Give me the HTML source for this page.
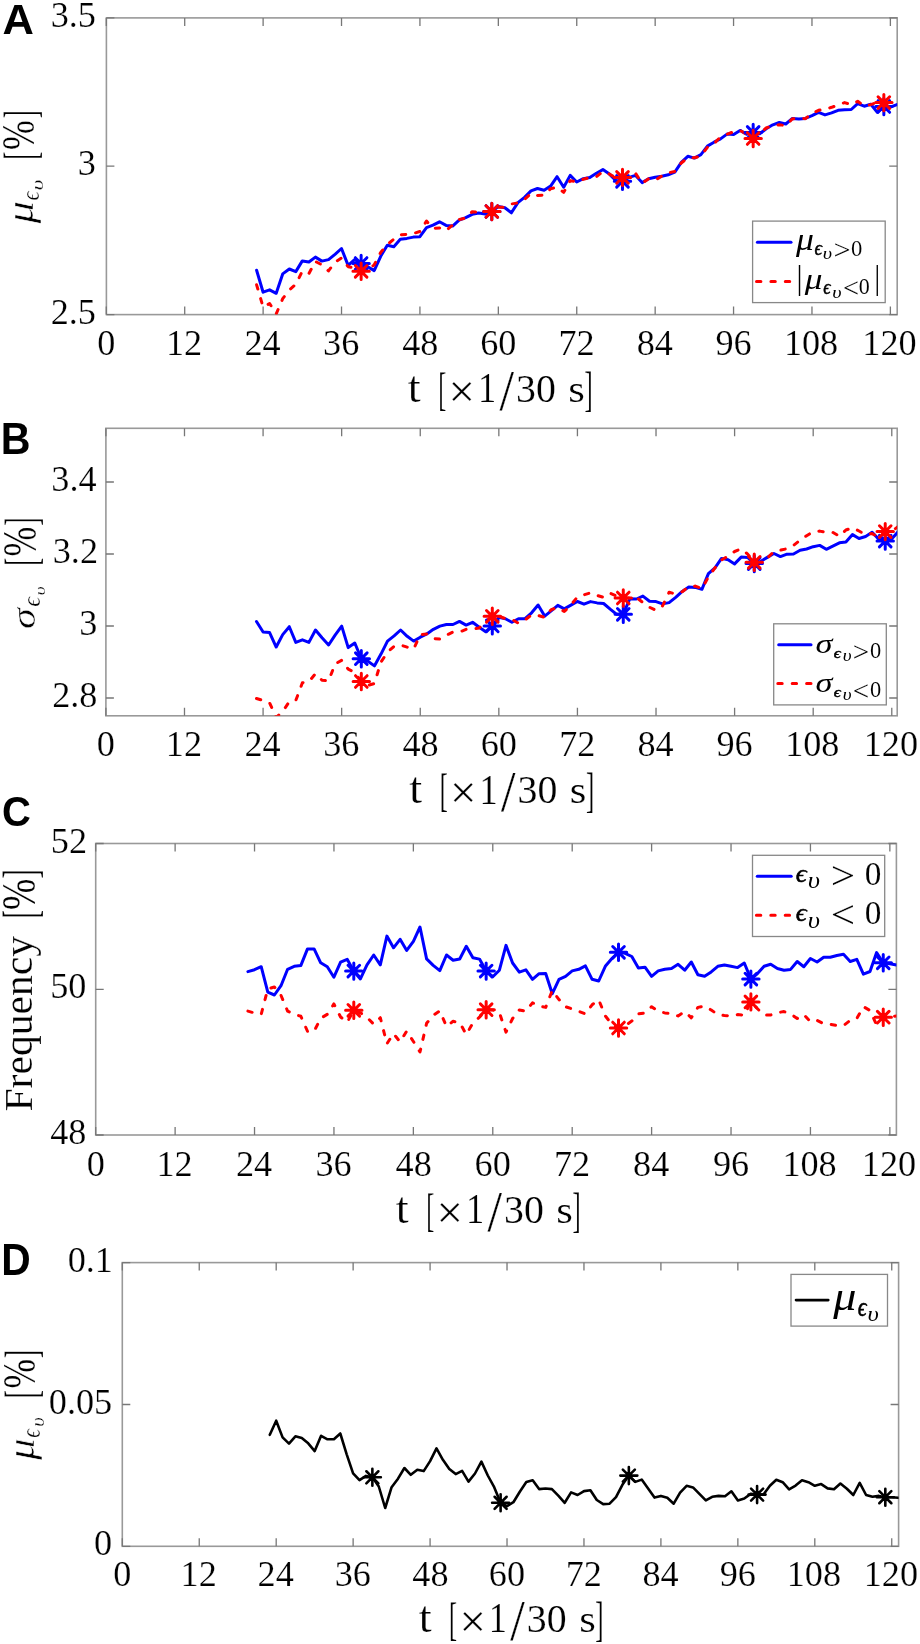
<!DOCTYPE html>
<html><head><meta charset="utf-8"><style>
html,body{margin:0;padding:0;background:#fff;}
svg{display:block;filter:blur(0.35px);}
</style></head><body>
<svg width="920" height="1644" viewBox="0 0 920 1644">
<rect width="920" height="1644" fill="#fff"/>
<rect x="106.4" y="17.9" width="790.80" height="296.70" fill="none" stroke="#999999" stroke-width="1.6"/>
<path d="M106.30,314.6V306.6M106.30,17.9V25.9M184.71,314.6V306.6M184.71,17.9V25.9M263.12,314.6V306.6M263.12,17.9V25.9M341.52,314.6V306.6M341.52,17.9V25.9M419.93,314.6V306.6M419.93,17.9V25.9M498.34,314.6V306.6M498.34,17.9V25.9M576.75,314.6V306.6M576.75,17.9V25.9M655.16,314.6V306.6M655.16,17.9V25.9M733.56,314.6V306.6M733.56,17.9V25.9M811.97,314.6V306.6M811.97,17.9V25.9M890.38,314.6V306.6M890.38,17.9V25.9M106.4,314.60H114.4M897.2,314.60H889.2M106.4,166.10H114.4M897.2,166.10H889.2M106.4,17.90H114.4M897.2,17.90H889.2" stroke="#777" stroke-width="1.3" fill="none"/>
<clipPath id="cA"><rect x="106.4" y="17.9" width="790.8000000000001" height="296.70000000000005"/></clipPath>
<g clip-path="url(#cA)">
<polyline points="256.6,270.2 263.1,292.2 269.6,289.8 276.2,293.3 282.7,273.9 289.3,269.0 295.8,271.6 302.3,260.9 308.9,262.0 315.4,257.1 321.9,261.1 328.5,259.6 335.0,254.3 341.5,248.5 348.1,265.4 354.6,259.6 361.1,264.0 367.7,266.7 374.2,270.6 380.7,256.3 387.3,245.2 393.8,246.8 400.3,239.3 406.9,238.4 413.4,237.1 419.9,236.7 426.5,227.6 433.0,225.2 439.5,221.8 446.1,225.4 452.6,226.1 459.1,220.2 465.7,217.6 472.2,214.3 478.7,213.0 485.3,214.1 491.8,211.5 498.3,206.5 504.9,207.8 511.4,212.8 517.9,202.6 524.5,197.4 531.0,190.9 537.5,188.5 544.1,190.3 550.6,186.1 557.1,176.7 563.7,187.2 570.2,175.4 576.7,182.0 583.3,178.7 589.8,177.6 596.4,173.2 602.9,169.6 609.4,174.1 616.0,180.6 622.5,181.3 629.0,177.4 635.6,175.4 642.1,182.6 648.6,178.7 655.2,177.2 661.7,176.2 668.2,174.8 674.8,172.2 681.3,162.4 687.8,156.3 694.4,158.1 700.9,154.6 707.4,146.1 714.0,142.2 720.5,138.9 727.0,134.1 733.6,134.6 740.1,130.4 746.6,134.3 753.2,132.4 759.7,133.7 766.2,128.8 772.8,124.8 779.3,122.5 785.8,124.0 792.4,118.4 798.9,119.0 805.4,118.4 812.0,115.7 818.5,112.3 825.0,114.9 831.6,112.9 838.1,110.3 844.6,109.8 851.2,109.5 857.7,103.6 864.2,106.2 870.8,104.2 877.3,112.4 883.8,106.5 890.4,107.2 896.9,104.6" fill="none" stroke="#0000ff" stroke-width="3.0" stroke-linejoin="round" stroke-linecap="round"/>
<polyline points="256.6,284.8 263.1,307.0 269.6,303.5 276.2,313.9 282.7,298.7 289.3,290.0 295.8,284.3 302.3,271.3 308.9,273.5 315.4,261.5 321.9,264.8 328.5,270.9 335.0,262.2 341.5,258.0 348.1,266.7 354.6,268.0 361.1,271.3 367.7,270.0 374.2,264.8 380.7,252.4 387.3,244.6 393.8,239.3 400.3,234.8 406.9,234.5 413.4,233.5 419.9,231.5 426.5,221.1 433.0,228.3 439.5,228.0 446.1,230.6 452.6,225.0 459.1,219.6 465.7,218.0 472.2,211.7 478.7,212.4 485.3,211.5 491.8,211.5 498.3,207.2 504.9,207.2 511.4,204.0 517.9,202.9 524.5,199.3 531.0,193.5 537.5,195.4 544.1,195.2 550.6,188.7 557.1,187.2 563.7,192.4 570.2,180.6 576.7,182.0 583.3,179.3 589.8,177.4 596.4,176.7 602.9,171.5 609.4,174.1 616.0,178.0 622.5,177.4 629.0,175.4 635.6,173.5 642.1,183.3 648.6,178.7 655.2,180.3 661.7,176.1 668.2,172.8 674.8,171.5 681.3,163.0 687.8,157.8 694.4,157.8 700.9,155.9 707.4,147.4 714.0,143.5 720.5,137.0 727.0,134.3 733.6,131.7 740.1,130.4 746.6,134.3 753.2,138.5 759.7,133.7 766.2,128.0 772.8,125.5 779.3,124.8 785.8,125.5 792.4,118.7 798.9,118.4 805.4,118.7 812.0,113.4 818.5,110.3 825.0,109.3 831.6,107.3 838.1,105.0 844.6,102.6 851.2,104.6 857.7,101.3 864.2,105.9 870.8,104.6 877.3,102.3 883.8,102.6 890.4,103.5 896.9,101.0" fill="none" stroke="#ff0000" stroke-width="3.0" stroke-linejoin="round" stroke-linecap="round" stroke-dasharray="4.4 10"/>
<path d="M352.93,263.50L369.33,263.50M355.33,257.70L366.92,269.30M361.13,255.30L361.13,271.70M366.92,257.70L355.33,269.30" stroke="#0000ff" stroke-width="3.0" stroke-linecap="round" fill="none"/>
<path d="M483.61,211.50L500.01,211.50M486.01,205.70L497.60,217.30M491.81,203.30L491.81,219.70M497.60,205.70L486.01,217.30" stroke="#0000ff" stroke-width="3.0" stroke-linecap="round" fill="none"/>
<path d="M614.29,181.30L630.69,181.30M616.69,175.50L628.28,187.10M622.49,173.10L622.49,189.50M628.28,175.50L616.69,187.10" stroke="#0000ff" stroke-width="3.0" stroke-linecap="round" fill="none"/>
<path d="M744.97,132.40L761.37,132.40M747.37,126.60L758.96,138.20M753.17,124.20L753.17,140.60M758.96,126.60L747.37,138.20" stroke="#0000ff" stroke-width="3.0" stroke-linecap="round" fill="none"/>
<path d="M875.65,106.50L892.05,106.50M878.05,100.70L889.64,112.30M883.85,98.30L883.85,114.70M889.64,100.70L878.05,112.30" stroke="#0000ff" stroke-width="3.0" stroke-linecap="round" fill="none"/>
<path d="M352.93,271.30L369.33,271.30M355.33,265.50L366.92,277.10M361.13,263.10L361.13,279.50M366.92,265.50L355.33,277.10" stroke="#ff0000" stroke-width="3.0" stroke-linecap="round" fill="none"/>
<path d="M483.61,211.50L500.01,211.50M486.01,205.70L497.60,217.30M491.81,203.30L491.81,219.70M497.60,205.70L486.01,217.30" stroke="#ff0000" stroke-width="3.0" stroke-linecap="round" fill="none"/>
<path d="M614.29,177.40L630.69,177.40M616.69,171.60L628.28,183.20M622.49,169.20L622.49,185.60M628.28,171.60L616.69,183.20" stroke="#ff0000" stroke-width="3.0" stroke-linecap="round" fill="none"/>
<path d="M744.97,138.50L761.37,138.50M747.37,132.70L758.96,144.30M753.17,130.30L753.17,146.70M758.96,132.70L747.37,144.30" stroke="#ff0000" stroke-width="3.0" stroke-linecap="round" fill="none"/>
<path d="M875.65,102.60L892.05,102.60M878.05,96.80L889.64,108.40M883.85,94.40L883.85,110.80M889.64,96.80L878.05,108.40" stroke="#ff0000" stroke-width="3.0" stroke-linecap="round" fill="none"/>
</g>
<text transform="translate(97.25,354.50)" style="font-family:'Liberation Serif', serif;font-size:36.20px" fill="#000" stroke="#fff" stroke-width="0.20">0</text>
<text transform="translate(166.02,354.50)" style="font-family:'Liberation Serif', serif;font-size:36.20px" fill="#000" stroke="#fff" stroke-width="0.20">12</text>
<text transform="translate(244.50,354.50)" style="font-family:'Liberation Serif', serif;font-size:36.20px" fill="#000" stroke="#fff" stroke-width="0.20">24</text>
<text transform="translate(323.10,354.50)" style="font-family:'Liberation Serif', serif;font-size:36.20px" fill="#000" stroke="#fff" stroke-width="0.20">36</text>
<text transform="translate(402.17,354.50)" style="font-family:'Liberation Serif', serif;font-size:36.20px" fill="#000" stroke="#fff" stroke-width="0.20">48</text>
<text transform="translate(480.15,354.50)" style="font-family:'Liberation Serif', serif;font-size:36.20px" fill="#000" stroke="#fff" stroke-width="0.20">60</text>
<text transform="translate(558.45,354.50)" style="font-family:'Liberation Serif', serif;font-size:36.20px" fill="#000" stroke="#fff" stroke-width="0.20">72</text>
<text transform="translate(636.65,354.50)" style="font-family:'Liberation Serif', serif;font-size:36.20px" fill="#000" stroke="#fff" stroke-width="0.20">84</text>
<text transform="translate(715.42,354.50)" style="font-family:'Liberation Serif', serif;font-size:36.20px" fill="#000" stroke="#fff" stroke-width="0.20">96</text>
<text transform="translate(783.92,354.50)" style="font-family:'Liberation Serif', serif;font-size:36.20px" fill="#000" stroke="#fff" stroke-width="0.20">108</text>
<text transform="translate(862.33,354.50)" style="font-family:'Liberation Serif', serif;font-size:36.20px" fill="#000" stroke="#fff" stroke-width="0.20">120</text>
<text transform="translate(50.66,323.60)" style="font-family:'Liberation Serif', serif;font-size:36.20px" fill="#000" stroke="#fff" stroke-width="0.20">2.5</text>
<text transform="translate(77.81,175.10)" style="font-family:'Liberation Serif', serif;font-size:36.20px" fill="#000" stroke="#fff" stroke-width="0.20">3</text>
<text transform="translate(50.66,26.90)" style="font-family:'Liberation Serif', serif;font-size:36.20px" fill="#000" stroke="#fff" stroke-width="0.20">3.5</text>
<text transform="translate(407.85,401.77) scale(1.0451,1)" style="font-family:'Liberation Serif', serif;font-size:44.52px" fill="#000" stroke="#fff" stroke-width="0.20">t</text>
<text transform="translate(438.30,404.66) scale(0.5121,1)" style="font-family:'Liberation Serif', serif;font-size:47.36px" fill="#000" stroke="#fff" stroke-width="0.20">[</text>
<text transform="translate(448.59,406.59) scale(1.0281,1)" style="font-family:'Liberation Serif', serif;font-size:45.67px" fill="#000" stroke="#fff" stroke-width="0.20">×</text>
<text transform="translate(478.00,402.00) scale(0.8824,1)" style="font-family:'Liberation Serif', serif;font-size:41.20px" fill="#000" stroke="#fff" stroke-width="0.20">1</text>
<text transform="translate(499.50,409.94) scale(0.9139,1)" style="font-family:'Liberation Serif', serif;font-size:57.10px" fill="#000" stroke="#fff" stroke-width="0.20">/</text>
<text transform="translate(515.99,401.80) scale(0.9807,1)" style="font-family:'Liberation Serif', serif;font-size:40.60px" fill="#000" stroke="#fff" stroke-width="0.20">30</text>
<text transform="translate(568.35,401.82) scale(1.0963,1)" style="font-family:'Liberation Serif', serif;font-size:38.88px" fill="#000" stroke="#fff" stroke-width="0.20">s</text>
<text transform="translate(584.41,404.83) scale(0.5189,1)" style="font-family:'Liberation Serif', serif;font-size:47.61px" fill="#000" stroke="#fff" stroke-width="0.20">]</text>
<g transform="translate(32.89,223.50) rotate(-90)"><text transform="translate(0.04,0) scale(1.1797,1)" style="font-family:'Liberation Serif', serif;font-style:italic;font-size:37.90px" fill="#000" stroke="#fff" stroke-width="0.50">μ</text></g>
<g transform="translate(38.85,199.80) rotate(-90)"><text transform="translate(-0.67,0) scale(0.8640,1)" style="font-family:'Liberation Serif', serif;font-style:italic;font-size:25.99px" fill="#000" stroke="#fff" stroke-width="0.32">ϵ</text></g>
<g transform="translate(43.13,189.40) rotate(-90)"><text transform="translate(-1.06,0) scale(1.4028,1)" style="font-family:'Liberation Serif', serif;font-style:italic;font-size:17.07px" fill="#000" stroke="#fff" stroke-width="0.21">υ</text></g>
<g transform="translate(36.06,157.90) rotate(-90)"><text transform="translate(-1.83,0) scale(0.5215,1)" style="font-family:'Liberation Serif', serif;font-size:47.36px" fill="#000" stroke="#fff" stroke-width="0.20">[</text></g>
<g transform="translate(33.99,148.80) rotate(-90)"><text transform="translate(-1.22,0) scale(0.7740,1)" style="font-family:'Liberation Serif', serif;font-size:46.30px" fill="#000" stroke="#fff" stroke-width="0.20">%</text></g>
<g transform="translate(36.06,117.30) rotate(-90)"><text transform="translate(-0.81,0) scale(0.4741,1)" style="font-family:'Liberation Serif', serif;font-size:47.36px" fill="#000" stroke="#fff" stroke-width="0.20">]</text></g>
<text transform="translate(2.62,33.70) scale(1.0048,1)" style="font-family:'Liberation Sans', sans-serif;font-weight:bold;font-size:43.31px" fill="#000">A</text>
<rect x="752.6" y="221.1" width="132.60" height="81.50" fill="#fff" stroke="#888" stroke-width="1.3"/>
<path d="M757.4,242.3H791" stroke="#0000ff" stroke-width="3" stroke-linecap="round"/>
<path d="M756.5,281.6H792.3" stroke="#ff0000" stroke-width="3" stroke-linecap="round" stroke-dasharray="4.4 10"/>
<text transform="translate(796.03,250.42) scale(1.1626,1)" style="font-family:'Liberation Serif', serif;font-style:italic;font-size:30.76px" fill="#000">μ</text>
<text transform="translate(814.55,254.80) scale(0.8901,1)" style="font-family:'Liberation Serif', serif;font-style:italic;font-size:20.79px" fill="#000" stroke="#000" stroke-width="0.50">ϵ</text>
<text transform="translate(822.80,258.74) scale(1.2040,1)" style="font-family:'Liberation Serif', serif;font-style:italic;font-size:16.86px" fill="#000">υ</text>
<text transform="translate(833.56,258.72) scale(1.0909,1)" style="font-family:'Liberation Serif', serif;font-size:27.78px" fill="#000" stroke="#fff" stroke-width="0.08">&gt;</text>
<text transform="translate(850.94,255.67) scale(0.9674,1)" style="font-family:'Liberation Serif', serif;font-size:23.41px" fill="#000" stroke="#fff" stroke-width="0.07">0</text>
<text transform="translate(796.54,289.27) scale(0.8753,1)" style="font-family:'Liberation Serif', serif;font-size:34.41px" fill="#000" stroke="#fff" stroke-width="0.10">|</text>
<text transform="translate(804.83,289.41) scale(1.1830,1)" style="font-family:'Liberation Serif', serif;font-style:italic;font-size:29.87px" fill="#000">μ</text>
<text transform="translate(823.36,294.30) scale(0.8840,1)" style="font-family:'Liberation Serif', serif;font-style:italic;font-size:20.38px" fill="#000" stroke="#000" stroke-width="0.50">ϵ</text>
<text transform="translate(832.30,297.54) scale(1.2503,1)" style="font-family:'Liberation Serif', serif;font-style:italic;font-size:16.23px" fill="#000">υ</text>
<text transform="translate(842.99,297.29) scale(1.0367,1)" style="font-family:'Liberation Serif', serif;font-size:27.36px" fill="#000" stroke="#fff" stroke-width="0.08">&lt;</text>
<text transform="translate(858.76,294.08) scale(0.9742,1)" style="font-family:'Liberation Serif', serif;font-size:22.53px" fill="#000" stroke="#fff" stroke-width="0.06">0</text>
<text transform="translate(874.24,289.27) scale(0.8753,1)" style="font-family:'Liberation Serif', serif;font-size:34.41px" fill="#000" stroke="#fff" stroke-width="0.10">|</text>
<rect x="105.9" y="428.3" width="791.30" height="287.50" fill="none" stroke="#999999" stroke-width="1.6"/>
<path d="M105.90,715.8V707.8M105.90,428.3V436.3M184.49,715.8V707.8M184.49,428.3V436.3M263.08,715.8V707.8M263.08,428.3V436.3M341.66,715.8V707.8M341.66,428.3V436.3M420.25,715.8V707.8M420.25,428.3V436.3M498.84,715.8V707.8M498.84,428.3V436.3M577.43,715.8V707.8M577.43,428.3V436.3M656.02,715.8V707.8M656.02,428.3V436.3M734.60,715.8V707.8M734.60,428.3V436.3M813.19,715.8V707.8M813.19,428.3V436.3M891.78,715.8V707.8M891.78,428.3V436.3M105.9,698.00H113.9M897.2,698.00H889.2M105.9,626.00H113.9M897.2,626.00H889.2M105.9,554.00H113.9M897.2,554.00H889.2M105.9,482.00H113.9M897.2,482.00H889.2" stroke="#777" stroke-width="1.3" fill="none"/>
<clipPath id="cB"><rect x="105.9" y="428.3" width="791.3000000000001" height="287.49999999999994"/></clipPath>
<g clip-path="url(#cB)">
<polyline points="256.5,621.5 263.1,632.0 269.6,632.6 276.2,647.0 282.7,634.6 289.3,626.7 295.8,642.4 302.4,639.8 308.9,642.4 315.5,630.0 322.0,637.8 328.6,645.0 335.1,635.2 341.7,626.1 348.2,647.6 354.8,643.0 361.3,658.7 367.9,661.3 374.4,665.9 381.0,654.1 387.5,641.1 394.1,635.9 400.6,630.0 407.2,636.3 413.7,641.1 420.3,637.2 426.8,633.9 433.4,629.3 439.9,626.1 446.4,624.5 453.0,624.5 459.5,621.4 466.1,625.1 472.6,622.3 479.2,627.2 485.7,631.7 492.3,625.9 498.8,617.4 505.4,618.7 511.9,622.3 518.5,618.7 525.0,618.7 531.6,612.8 538.1,605.0 544.7,616.1 551.2,610.9 557.8,605.4 564.3,608.9 570.9,605.1 577.4,601.5 584.0,604.2 590.5,601.6 597.1,602.9 603.6,603.5 610.2,609.1 616.7,614.3 623.3,614.3 629.8,598.7 636.4,599.0 642.9,596.1 649.5,601.3 656.0,601.6 662.6,603.9 669.1,602.6 675.7,597.4 682.2,591.4 688.8,587.1 695.3,587.4 701.9,589.3 708.4,573.7 715.0,567.8 721.5,558.4 728.1,559.7 734.6,563.9 741.2,557.1 747.7,557.4 754.3,563.6 760.8,561.3 767.3,557.4 773.9,553.5 780.4,556.6 787.0,554.2 793.5,554.0 800.1,550.3 806.6,549.0 813.2,546.7 819.7,545.4 826.3,549.3 832.8,546.1 839.4,542.8 845.9,542.1 852.5,534.6 859.0,538.5 865.6,536.5 872.1,532.3 878.7,539.1 885.2,541.1 891.8,538.8 898.3,531.6" fill="none" stroke="#0000ff" stroke-width="3.0" stroke-linejoin="round" stroke-linecap="round"/>
<polyline points="256.5,698.5 263.1,700.4 269.6,703.0 276.2,717.4 282.7,711.5 289.3,701.7 295.8,700.4 302.4,682.8 308.9,681.5 315.5,673.7 322.0,680.2 328.6,680.9 335.1,663.9 341.7,660.3 348.2,669.1 354.8,672.4 361.3,681.5 367.9,685.4 374.4,683.5 381.0,662.0 387.5,652.2 394.1,646.3 400.6,645.0 407.2,647.2 413.7,648.9 420.3,634.6 426.8,633.9 433.4,638.5 439.9,639.1 446.4,635.2 453.0,632.0 459.5,632.0 466.1,629.4 472.6,629.1 479.2,628.0 485.7,621.3 492.3,616.3 498.8,616.1 505.4,618.7 511.9,619.3 518.5,623.3 525.0,620.0 531.6,614.8 538.1,615.4 544.7,617.4 551.2,609.6 557.8,607.6 564.3,611.5 570.9,605.0 577.4,597.0 584.0,594.8 590.5,592.8 597.1,595.4 603.6,597.4 610.2,593.2 616.7,596.1 623.3,598.0 629.8,598.0 636.4,597.4 642.9,602.6 649.5,607.2 656.0,610.4 662.6,605.9 669.1,592.2 675.7,594.1 682.2,591.7 688.8,586.7 695.3,586.1 701.9,588.7 708.4,577.0 715.0,567.8 721.5,560.0 728.1,556.1 734.6,551.5 741.2,548.9 747.7,554.1 754.3,562.3 760.8,562.6 767.3,558.0 773.9,551.5 780.4,550.2 787.0,548.7 793.5,545.4 800.1,540.2 806.6,535.7 813.2,531.7 819.7,531.1 826.3,532.4 832.8,532.4 839.4,536.3 845.9,530.0 852.5,527.7 859.0,531.0 865.6,534.6 872.1,533.6 878.7,537.2 885.2,531.6 891.8,531.3 898.3,526.4" fill="none" stroke="#ff0000" stroke-width="3.0" stroke-linejoin="round" stroke-linecap="round" stroke-dasharray="4.4 10"/>
<path d="M353.11,658.70L369.51,658.70M355.51,652.90L367.11,664.50M361.31,650.50L361.31,666.90M367.11,652.90L355.51,664.50" stroke="#0000ff" stroke-width="3.0" stroke-linecap="round" fill="none"/>
<path d="M484.09,625.90L500.49,625.90M486.49,620.10L498.09,631.70M492.29,617.70L492.29,634.10M498.09,620.10L486.49,631.70" stroke="#0000ff" stroke-width="3.0" stroke-linecap="round" fill="none"/>
<path d="M615.07,614.30L631.47,614.30M617.47,608.50L629.07,620.10M623.27,606.10L623.27,622.50M629.07,608.50L617.47,620.10" stroke="#0000ff" stroke-width="3.0" stroke-linecap="round" fill="none"/>
<path d="M746.05,563.60L762.45,563.60M748.45,557.80L760.05,569.40M754.25,555.40L754.25,571.80M760.05,557.80L748.45,569.40" stroke="#0000ff" stroke-width="3.0" stroke-linecap="round" fill="none"/>
<path d="M877.03,541.10L893.43,541.10M879.43,535.30L891.03,546.90M885.23,532.90L885.23,549.30M891.03,535.30L879.43,546.90" stroke="#0000ff" stroke-width="3.0" stroke-linecap="round" fill="none"/>
<path d="M353.11,681.50L369.51,681.50M355.51,675.70L367.11,687.30M361.31,673.30L361.31,689.70M367.11,675.70L355.51,687.30" stroke="#ff0000" stroke-width="3.0" stroke-linecap="round" fill="none"/>
<path d="M484.09,616.30L500.49,616.30M486.49,610.50L498.09,622.10M492.29,608.10L492.29,624.50M498.09,610.50L486.49,622.10" stroke="#ff0000" stroke-width="3.0" stroke-linecap="round" fill="none"/>
<path d="M615.07,598.00L631.47,598.00M617.47,592.20L629.07,603.80M623.27,589.80L623.27,606.20M629.07,592.20L617.47,603.80" stroke="#ff0000" stroke-width="3.0" stroke-linecap="round" fill="none"/>
<path d="M746.05,562.30L762.45,562.30M748.45,556.50L760.05,568.10M754.25,554.10L754.25,570.50M760.05,556.50L748.45,568.10" stroke="#ff0000" stroke-width="3.0" stroke-linecap="round" fill="none"/>
<path d="M877.03,531.60L893.43,531.60M879.43,525.80L891.03,537.40M885.23,523.40L885.23,539.80M891.03,525.80L879.43,537.40" stroke="#ff0000" stroke-width="3.0" stroke-linecap="round" fill="none"/>
</g>
<text transform="translate(96.85,755.70)" style="font-family:'Liberation Serif', serif;font-size:36.20px" fill="#000" stroke="#fff" stroke-width="0.20">0</text>
<text transform="translate(165.80,755.70)" style="font-family:'Liberation Serif', serif;font-size:36.20px" fill="#000" stroke="#fff" stroke-width="0.20">12</text>
<text transform="translate(244.46,755.70)" style="font-family:'Liberation Serif', serif;font-size:36.20px" fill="#000" stroke="#fff" stroke-width="0.20">24</text>
<text transform="translate(323.24,755.70)" style="font-family:'Liberation Serif', serif;font-size:36.20px" fill="#000" stroke="#fff" stroke-width="0.20">36</text>
<text transform="translate(402.49,755.70)" style="font-family:'Liberation Serif', serif;font-size:36.20px" fill="#000" stroke="#fff" stroke-width="0.20">48</text>
<text transform="translate(480.65,755.70)" style="font-family:'Liberation Serif', serif;font-size:36.20px" fill="#000" stroke="#fff" stroke-width="0.20">60</text>
<text transform="translate(559.13,755.70)" style="font-family:'Liberation Serif', serif;font-size:36.20px" fill="#000" stroke="#fff" stroke-width="0.20">72</text>
<text transform="translate(637.51,755.70)" style="font-family:'Liberation Serif', serif;font-size:36.20px" fill="#000" stroke="#fff" stroke-width="0.20">84</text>
<text transform="translate(716.46,755.70)" style="font-family:'Liberation Serif', serif;font-size:36.20px" fill="#000" stroke="#fff" stroke-width="0.20">96</text>
<text transform="translate(785.14,755.70)" style="font-family:'Liberation Serif', serif;font-size:36.20px" fill="#000" stroke="#fff" stroke-width="0.20">108</text>
<text transform="translate(863.73,755.70)" style="font-family:'Liberation Serif', serif;font-size:36.20px" fill="#000" stroke="#fff" stroke-width="0.20">120</text>
<text transform="translate(52.13,707.00)" style="font-family:'Liberation Serif', serif;font-size:36.20px" fill="#000" stroke="#fff" stroke-width="0.20">2.8</text>
<text transform="translate(79.31,635.00)" style="font-family:'Liberation Serif', serif;font-size:36.20px" fill="#000" stroke="#fff" stroke-width="0.20">3</text>
<text transform="translate(52.75,563.00)" style="font-family:'Liberation Serif', serif;font-size:36.20px" fill="#000" stroke="#fff" stroke-width="0.20">3.2</text>
<text transform="translate(51.32,491.00)" style="font-family:'Liberation Serif', serif;font-size:36.20px" fill="#000" stroke="#fff" stroke-width="0.20">3.4</text>
<text transform="translate(409.35,803.27) scale(1.0451,1)" style="font-family:'Liberation Serif', serif;font-size:44.52px" fill="#000" stroke="#fff" stroke-width="0.20">t</text>
<text transform="translate(439.80,806.16) scale(0.5121,1)" style="font-family:'Liberation Serif', serif;font-size:47.36px" fill="#000" stroke="#fff" stroke-width="0.20">[</text>
<text transform="translate(450.09,808.09) scale(1.0281,1)" style="font-family:'Liberation Serif', serif;font-size:45.67px" fill="#000" stroke="#fff" stroke-width="0.20">×</text>
<text transform="translate(479.50,803.50) scale(0.8824,1)" style="font-family:'Liberation Serif', serif;font-size:41.20px" fill="#000" stroke="#fff" stroke-width="0.20">1</text>
<text transform="translate(501.00,811.44) scale(0.9139,1)" style="font-family:'Liberation Serif', serif;font-size:57.10px" fill="#000" stroke="#fff" stroke-width="0.20">/</text>
<text transform="translate(517.49,803.30) scale(0.9807,1)" style="font-family:'Liberation Serif', serif;font-size:40.60px" fill="#000" stroke="#fff" stroke-width="0.20">30</text>
<text transform="translate(569.85,803.32) scale(1.0963,1)" style="font-family:'Liberation Serif', serif;font-size:38.88px" fill="#000" stroke="#fff" stroke-width="0.20">s</text>
<text transform="translate(585.91,806.33) scale(0.5189,1)" style="font-family:'Liberation Serif', serif;font-size:47.61px" fill="#000" stroke="#fff" stroke-width="0.20">]</text>
<g transform="translate(34.57,627.70) rotate(-90)"><text transform="translate(-1.26,0) scale(1.2673,1)" style="font-family:'Liberation Serif', serif;font-style:italic;font-size:33.31px" fill="#000" stroke="#fff" stroke-width="0.42">σ</text></g>
<g transform="translate(39.76,606.00) rotate(-90)"><text transform="translate(-0.72,0) scale(0.9773,1)" style="font-family:'Liberation Serif', serif;font-style:italic;font-size:24.74px" fill="#000" stroke="#fff" stroke-width="0.31">ϵ</text></g>
<g transform="translate(44.55,594.50) rotate(-90)"><text transform="translate(-0.89,0) scale(1.3188,1)" style="font-family:'Liberation Serif', serif;font-style:italic;font-size:15.19px" fill="#000" stroke="#fff" stroke-width="0.19">υ</text></g>
<g transform="translate(37.48,563.80) rotate(-90)"><text transform="translate(-1.70,0) scale(0.4848,1)" style="font-family:'Liberation Serif', serif;font-size:47.24px" fill="#000" stroke="#fff" stroke-width="0.20">[</text></g>
<g transform="translate(35.97,555.30) rotate(-90)"><text transform="translate(-1.22,0) scale(0.7497,1)" style="font-family:'Liberation Serif', serif;font-size:47.62px" fill="#000" stroke="#fff" stroke-width="0.20">%</text></g>
<g transform="translate(37.48,524.70) rotate(-90)"><text transform="translate(-0.83,0) scale(0.4848,1)" style="font-family:'Liberation Serif', serif;font-size:47.24px" fill="#000" stroke="#fff" stroke-width="0.20">]</text></g>
<text transform="translate(0.85,454.10) scale(0.9438,1)" style="font-family:'Liberation Sans', sans-serif;font-weight:bold;font-size:43.61px" fill="#000">B</text>
<rect x="773.7" y="623.8" width="112.60" height="81.10" fill="#fff" stroke="#888" stroke-width="1.3"/>
<path d="M778.7,644.8H811" stroke="#0000ff" stroke-width="3" stroke-linecap="round"/>
<path d="M777.8,683.6H812.3" stroke="#ff0000" stroke-width="3" stroke-linecap="round" stroke-dasharray="4.4 10"/>
<text transform="translate(815.48,653.03) scale(1.2527,1)" style="font-family:'Liberation Serif', serif;font-style:italic;font-size:27.41px" fill="#000">σ</text>
<text transform="translate(833.79,658.35) scale(1.1226,1)" style="font-family:'Liberation Serif', serif;font-style:italic;font-size:15.39px" fill="#000" stroke="#000" stroke-width="0.50">ϵ</text>
<text transform="translate(842.64,661.34) scale(1.1862,1)" style="font-family:'Liberation Serif', serif;font-style:italic;font-size:16.23px" fill="#000">υ</text>
<text transform="translate(852.83,660.97) scale(1.0684,1)" style="font-family:'Liberation Serif', serif;font-size:27.15px" fill="#000" stroke="#fff" stroke-width="0.08">&gt;</text>
<text transform="translate(870.05,658.27) scale(0.9634,1)" style="font-family:'Liberation Serif', serif;font-size:23.27px" fill="#000" stroke="#fff" stroke-width="0.06">0</text>
<text transform="translate(815.48,692.03) scale(1.2527,1)" style="font-family:'Liberation Serif', serif;font-style:italic;font-size:27.41px" fill="#000">σ</text>
<text transform="translate(833.79,697.35) scale(1.1226,1)" style="font-family:'Liberation Serif', serif;font-style:italic;font-size:15.39px" fill="#000" stroke="#000" stroke-width="0.50">ϵ</text>
<text transform="translate(842.64,700.34) scale(1.1862,1)" style="font-family:'Liberation Serif', serif;font-style:italic;font-size:16.23px" fill="#000">υ</text>
<text transform="translate(852.86,699.97) scale(1.0684,1)" style="font-family:'Liberation Serif', serif;font-size:27.15px" fill="#000" stroke="#fff" stroke-width="0.08">&lt;</text>
<text transform="translate(870.05,697.27) scale(0.9634,1)" style="font-family:'Liberation Serif', serif;font-size:23.27px" fill="#000" stroke="#fff" stroke-width="0.06">0</text>
<rect x="95.7" y="843.5" width="800.70" height="291.50" fill="none" stroke="#999999" stroke-width="1.6"/>
<path d="M95.70,1135.0V1127.0M95.70,843.5V851.5M175.12,1135.0V1127.0M175.12,843.5V851.5M254.53,1135.0V1127.0M254.53,843.5V851.5M333.95,1135.0V1127.0M333.95,843.5V851.5M413.36,1135.0V1127.0M413.36,843.5V851.5M492.78,1135.0V1127.0M492.78,843.5V851.5M572.20,1135.0V1127.0M572.20,843.5V851.5M651.61,1135.0V1127.0M651.61,843.5V851.5M731.03,1135.0V1127.0M731.03,843.5V851.5M810.44,1135.0V1127.0M810.44,843.5V851.5M889.86,1135.0V1127.0M889.86,843.5V851.5M95.7,1135.00H103.7M896.4,1135.00H888.4M95.7,989.30H103.7M896.4,989.30H888.4M95.7,843.50H103.7M896.4,843.50H888.4" stroke="#777" stroke-width="1.3" fill="none"/>
<clipPath id="cC"><rect x="95.7" y="843.5" width="800.6999999999999" height="291.5"/></clipPath>
<g clip-path="url(#cC)">
<polyline points="247.9,971.6 254.5,969.7 261.2,966.7 267.8,992.2 274.4,995.0 281.0,985.7 287.6,969.3 294.2,966.3 300.9,965.4 307.5,948.9 314.1,948.9 320.7,962.8 327.3,966.7 333.9,977.2 340.6,962.2 347.2,959.3 353.8,971.2 360.4,978.9 367.0,964.8 373.7,955.0 380.3,964.8 386.9,936.1 393.5,947.8 400.1,939.3 406.7,950.4 413.4,941.3 420.0,927.0 426.6,958.9 433.2,965.4 439.8,970.6 446.5,955.0 453.1,960.2 459.7,959.0 466.3,946.3 472.9,957.8 479.5,959.1 486.2,971.1 492.8,976.7 499.4,970.2 506.0,945.4 512.6,963.0 519.3,972.2 525.9,969.8 532.5,979.3 539.1,973.7 545.7,973.5 552.3,993.7 559.0,979.3 565.6,976.3 572.2,970.9 578.8,969.3 585.4,965.9 592.1,979.3 598.7,981.0 605.3,966.3 611.9,958.5 618.5,952.3 625.1,953.3 631.8,956.5 638.4,968.0 645.0,967.2 651.6,976.3 658.2,970.9 664.8,969.3 671.5,968.5 678.1,964.3 684.7,970.2 691.3,962.0 697.9,974.8 704.6,976.3 711.2,971.9 717.8,966.3 724.4,965.0 731.0,966.3 737.6,967.6 744.3,963.0 750.9,979.1 757.5,973.5 764.1,966.3 770.7,964.3 777.4,968.5 784.0,970.2 790.6,969.4 797.2,961.5 803.8,966.7 810.4,958.5 817.1,962.0 823.7,957.2 830.3,957.2 836.9,955.5 843.5,954.2 850.2,961.5 856.8,959.4 863.4,974.1 870.0,971.5 876.6,952.6 883.2,962.8 889.9,963.7 896.5,965.0" fill="none" stroke="#0000ff" stroke-width="3.0" stroke-linejoin="round" stroke-linecap="round"/>
<polyline points="247.9,1011.1 254.5,1013.0 261.2,1014.3 267.8,988.9 274.4,987.0 281.0,995.4 287.6,1011.1 294.2,1014.3 300.9,1016.3 307.5,1031.3 314.1,1031.3 320.7,1018.3 327.3,1014.3 333.9,1003.9 340.6,1017.0 347.2,1022.2 353.8,1010.3 360.4,1012.8 367.0,1017.4 373.7,1024.2 380.3,1017.7 386.9,1043.7 393.5,1033.7 400.1,1041.9 406.7,1031.1 413.4,1041.5 420.0,1052.0 426.6,1023.3 433.2,1015.4 439.8,1010.9 446.5,1026.5 453.1,1021.3 459.7,1022.6 466.3,1034.5 472.9,1023.0 479.5,1017.2 486.2,1009.7 492.8,1010.0 499.4,1012.6 506.0,1032.2 512.6,1018.5 519.3,1010.0 525.9,1011.3 532.5,1002.8 539.1,1006.1 545.7,1007.4 552.3,990.4 559.0,999.6 565.6,1006.7 572.2,1009.0 578.8,1011.3 585.4,1013.9 592.1,1004.8 598.7,999.8 605.3,1015.9 611.9,1024.3 618.5,1028.0 625.1,1025.6 631.8,1021.1 638.4,1013.9 645.0,1012.9 651.6,1006.7 658.2,1011.3 664.8,1012.9 671.5,1013.6 678.1,1015.9 684.7,1011.6 691.3,1017.8 697.9,1007.4 704.6,1006.1 711.2,1010.0 717.8,1014.6 724.4,1015.5 731.0,1015.9 737.6,1014.6 744.3,1015.2 750.9,1001.9 757.5,1008.7 764.1,1015.2 770.7,1015.0 777.4,1012.6 784.0,1011.6 790.6,1013.9 797.2,1018.5 803.8,1014.6 810.4,1021.7 817.1,1020.4 823.7,1023.7 830.3,1024.3 836.9,1025.4 843.5,1025.6 850.2,1020.4 856.8,1018.5 863.4,1006.7 870.0,1010.5 876.6,1025.0 883.2,1017.2 889.9,1016.5 896.5,1016.0" fill="none" stroke="#ff0000" stroke-width="3.0" stroke-linejoin="round" stroke-linecap="round" stroke-dasharray="4.4 10"/>
<path d="M345.60,971.10L362.00,971.10M348.00,965.30L359.60,976.90M353.80,962.90L353.80,979.30M359.60,965.30L348.00,976.90" stroke="#0000ff" stroke-width="3.0" stroke-linecap="round" fill="none"/>
<path d="M477.96,971.10L494.36,971.10M480.36,965.30L491.96,976.90M486.16,962.90L486.16,979.30M491.96,965.30L480.36,976.90" stroke="#0000ff" stroke-width="3.0" stroke-linecap="round" fill="none"/>
<path d="M610.32,952.30L626.72,952.30M612.72,946.50L624.32,958.10M618.52,944.10L618.52,960.50M624.32,946.50L612.72,958.10" stroke="#0000ff" stroke-width="3.0" stroke-linecap="round" fill="none"/>
<path d="M742.68,979.10L759.08,979.10M745.08,973.30L756.68,984.90M750.88,970.90L750.88,987.30M756.68,973.30L745.08,984.90" stroke="#0000ff" stroke-width="3.0" stroke-linecap="round" fill="none"/>
<path d="M875.04,962.80L891.44,962.80M877.44,957.00L889.04,968.60M883.24,954.60L883.24,971.00M889.04,957.00L877.44,968.60" stroke="#0000ff" stroke-width="3.0" stroke-linecap="round" fill="none"/>
<path d="M345.60,1010.30L362.00,1010.30M348.00,1004.50L359.60,1016.10M353.80,1002.10L353.80,1018.50M359.60,1004.50L348.00,1016.10" stroke="#ff0000" stroke-width="3.0" stroke-linecap="round" fill="none"/>
<path d="M477.96,1009.70L494.36,1009.70M480.36,1003.90L491.96,1015.50M486.16,1001.50L486.16,1017.90M491.96,1003.90L480.36,1015.50" stroke="#ff0000" stroke-width="3.0" stroke-linecap="round" fill="none"/>
<path d="M610.32,1028.00L626.72,1028.00M612.72,1022.20L624.32,1033.80M618.52,1019.80L618.52,1036.20M624.32,1022.20L612.72,1033.80" stroke="#ff0000" stroke-width="3.0" stroke-linecap="round" fill="none"/>
<path d="M742.68,1001.90L759.08,1001.90M745.08,996.10L756.68,1007.70M750.88,993.70L750.88,1010.10M756.68,996.10L745.08,1007.70" stroke="#ff0000" stroke-width="3.0" stroke-linecap="round" fill="none"/>
<path d="M875.04,1017.20L891.44,1017.20M877.44,1011.40L889.04,1023.00M883.24,1009.00L883.24,1025.40M889.04,1011.40L877.44,1023.00" stroke="#ff0000" stroke-width="3.0" stroke-linecap="round" fill="none"/>
</g>
<text transform="translate(86.65,1175.70)" style="font-family:'Liberation Serif', serif;font-size:36.20px" fill="#000" stroke="#fff" stroke-width="0.20">0</text>
<text transform="translate(156.42,1175.70)" style="font-family:'Liberation Serif', serif;font-size:36.20px" fill="#000" stroke="#fff" stroke-width="0.20">12</text>
<text transform="translate(235.92,1175.70)" style="font-family:'Liberation Serif', serif;font-size:36.20px" fill="#000" stroke="#fff" stroke-width="0.20">24</text>
<text transform="translate(315.52,1175.70)" style="font-family:'Liberation Serif', serif;font-size:36.20px" fill="#000" stroke="#fff" stroke-width="0.20">36</text>
<text transform="translate(395.60,1175.70)" style="font-family:'Liberation Serif', serif;font-size:36.20px" fill="#000" stroke="#fff" stroke-width="0.20">48</text>
<text transform="translate(474.59,1175.70)" style="font-family:'Liberation Serif', serif;font-size:36.20px" fill="#000" stroke="#fff" stroke-width="0.20">60</text>
<text transform="translate(553.90,1175.70)" style="font-family:'Liberation Serif', serif;font-size:36.20px" fill="#000" stroke="#fff" stroke-width="0.20">72</text>
<text transform="translate(633.11,1175.70)" style="font-family:'Liberation Serif', serif;font-size:36.20px" fill="#000" stroke="#fff" stroke-width="0.20">84</text>
<text transform="translate(712.88,1175.70)" style="font-family:'Liberation Serif', serif;font-size:36.20px" fill="#000" stroke="#fff" stroke-width="0.20">96</text>
<text transform="translate(782.39,1175.70)" style="font-family:'Liberation Serif', serif;font-size:36.20px" fill="#000" stroke="#fff" stroke-width="0.20">108</text>
<text transform="translate(861.81,1175.70)" style="font-family:'Liberation Serif', serif;font-size:36.20px" fill="#000" stroke="#fff" stroke-width="0.20">120</text>
<text transform="translate(50.18,1144.00)" style="font-family:'Liberation Serif', serif;font-size:36.20px" fill="#000" stroke="#fff" stroke-width="0.20">48</text>
<text transform="translate(50.18,998.30)" style="font-family:'Liberation Serif', serif;font-size:36.20px" fill="#000" stroke="#fff" stroke-width="0.20">50</text>
<text transform="translate(50.80,852.50)" style="font-family:'Liberation Serif', serif;font-size:36.20px" fill="#000" stroke="#fff" stroke-width="0.20">52</text>
<text transform="translate(395.85,1223.07) scale(1.0451,1)" style="font-family:'Liberation Serif', serif;font-size:44.52px" fill="#000" stroke="#fff" stroke-width="0.20">t</text>
<text transform="translate(426.30,1225.96) scale(0.5121,1)" style="font-family:'Liberation Serif', serif;font-size:47.36px" fill="#000" stroke="#fff" stroke-width="0.20">[</text>
<text transform="translate(436.59,1227.89) scale(1.0281,1)" style="font-family:'Liberation Serif', serif;font-size:45.67px" fill="#000" stroke="#fff" stroke-width="0.20">×</text>
<text transform="translate(466.00,1223.30) scale(0.8824,1)" style="font-family:'Liberation Serif', serif;font-size:41.20px" fill="#000" stroke="#fff" stroke-width="0.20">1</text>
<text transform="translate(487.50,1231.24) scale(0.9139,1)" style="font-family:'Liberation Serif', serif;font-size:57.10px" fill="#000" stroke="#fff" stroke-width="0.20">/</text>
<text transform="translate(503.99,1223.10) scale(0.9807,1)" style="font-family:'Liberation Serif', serif;font-size:40.60px" fill="#000" stroke="#fff" stroke-width="0.20">30</text>
<text transform="translate(556.35,1223.12) scale(1.0963,1)" style="font-family:'Liberation Serif', serif;font-size:38.88px" fill="#000" stroke="#fff" stroke-width="0.20">s</text>
<text transform="translate(572.41,1226.13) scale(0.5189,1)" style="font-family:'Liberation Serif', serif;font-size:47.61px" fill="#000" stroke="#fff" stroke-width="0.20">]</text>
<g transform="translate(32.47,1110.40) rotate(-90)"><text transform="translate(-1.20,0) scale(1.0418,1)" style="font-family:'Liberation Serif', serif;font-size:39.97px" fill="#000" stroke="#fff" stroke-width="0.20">Frequency</text></g>
<g transform="translate(36.31,916.50) rotate(-90)"><text transform="translate(-1.83,0) scale(0.5176,1)" style="font-family:'Liberation Serif', serif;font-size:47.73px" fill="#000" stroke="#fff" stroke-width="0.20">[</text></g>
<g transform="translate(34.67,908.70) rotate(-90)"><text transform="translate(-1.28,0) scale(0.7881,1)" style="font-family:'Liberation Serif', serif;font-size:47.62px" fill="#000" stroke="#fff" stroke-width="0.20">%</text></g>
<g transform="translate(36.31,877.50) rotate(-90)"><text transform="translate(-0.97,0) scale(0.5646,1)" style="font-family:'Liberation Serif', serif;font-size:47.73px" fill="#000" stroke="#fff" stroke-width="0.20">]</text></g>
<text transform="translate(1.96,825.58) scale(0.9206,1)" style="font-family:'Liberation Sans', sans-serif;font-weight:bold;font-size:43.36px" fill="#000">C</text>
<rect x="752.5" y="855.3" width="132.20" height="81.20" fill="#fff" stroke="#888" stroke-width="1.3"/>
<path d="M757.3,876.2H791.2" stroke="#0000ff" stroke-width="3" stroke-linecap="round"/>
<path d="M756.4,915.3H792.5" stroke="#ff0000" stroke-width="3" stroke-linecap="round" stroke-dasharray="4.4 10"/>
<text transform="translate(795.70,881.56) scale(1.1056,1)" style="font-family:'Liberation Serif', serif;font-style:italic;font-size:24.33px" fill="#000" stroke="#000" stroke-width="0.50">ϵ</text>
<text transform="translate(807.81,888.48) scale(1.1815,1)" style="font-family:'Liberation Serif', serif;font-style:italic;font-size:22.69px" fill="#000">υ</text>
<text transform="translate(830.71,888.98) scale(1.0967,1)" style="font-family:'Liberation Serif', serif;font-size:39.38px" fill="#000" stroke="#fff" stroke-width="0.10">&gt;</text>
<text transform="translate(864.83,884.58) scale(1.0067,1)" style="font-family:'Liberation Serif', serif;font-size:33.05px" fill="#000" stroke="#fff" stroke-width="0.09">0</text>
<text transform="translate(795.70,920.76) scale(1.1056,1)" style="font-family:'Liberation Serif', serif;font-style:italic;font-size:24.33px" fill="#000" stroke="#000" stroke-width="0.50">ϵ</text>
<text transform="translate(807.81,927.68) scale(1.1815,1)" style="font-family:'Liberation Serif', serif;font-style:italic;font-size:22.69px" fill="#000">υ</text>
<text transform="translate(830.75,928.18) scale(1.0967,1)" style="font-family:'Liberation Serif', serif;font-size:39.38px" fill="#000" stroke="#fff" stroke-width="0.10">&lt;</text>
<text transform="translate(864.83,923.78) scale(1.0067,1)" style="font-family:'Liberation Serif', serif;font-size:33.05px" fill="#000" stroke="#fff" stroke-width="0.09">0</text>
<rect x="122.3" y="1262.6" width="776.30" height="283.70" fill="none" stroke="#999999" stroke-width="1.6"/>
<path d="M122.30,1546.3V1538.3M122.30,1262.6V1270.6M199.24,1546.3V1538.3M199.24,1262.6V1270.6M276.19,1546.3V1538.3M276.19,1262.6V1270.6M353.13,1546.3V1538.3M353.13,1262.6V1270.6M430.08,1546.3V1538.3M430.08,1262.6V1270.6M507.02,1546.3V1538.3M507.02,1262.6V1270.6M583.96,1546.3V1538.3M583.96,1262.6V1270.6M660.91,1546.3V1538.3M660.91,1262.6V1270.6M737.85,1546.3V1538.3M737.85,1262.6V1270.6M814.80,1546.3V1538.3M814.80,1262.6V1270.6M891.74,1546.3V1538.3M891.74,1262.6V1270.6M122.3,1546.30H130.3M898.6,1546.30H890.6M122.3,1404.50H130.3M898.6,1404.50H890.6M122.3,1262.60H130.3M898.6,1262.60H890.6" stroke="#777" stroke-width="1.3" fill="none"/>
<clipPath id="cD"><rect x="122.3" y="1262.6" width="776.3000000000001" height="283.70000000000005"/></clipPath>
<g clip-path="url(#cD)">
<polyline points="269.8,1434.8 276.2,1420.7 282.6,1437.4 289.0,1443.6 295.4,1436.3 301.8,1438.0 308.2,1443.3 314.7,1451.1 321.1,1435.8 327.5,1439.3 333.9,1439.3 340.3,1433.5 346.7,1454.3 353.1,1473.3 359.5,1480.2 366.0,1475.9 372.4,1477.3 378.8,1486.5 385.2,1508.0 391.6,1487.2 398.0,1478.7 404.4,1468.0 410.8,1474.8 417.3,1469.8 423.7,1471.1 430.1,1461.1 436.5,1448.4 442.9,1459.8 449.3,1468.9 455.7,1474.1 462.1,1470.9 468.5,1481.6 475.0,1473.5 481.4,1461.6 487.8,1475.5 494.2,1487.2 500.6,1502.8 507.0,1506.1 513.4,1502.2 519.8,1491.7 526.3,1482.0 532.7,1480.3 539.1,1489.1 545.5,1488.5 551.9,1489.1 558.3,1495.6 564.7,1502.8 571.1,1492.4 577.6,1495.0 584.0,1491.1 590.4,1490.2 596.8,1500.0 603.2,1504.1 609.6,1503.7 616.0,1497.2 622.4,1484.8 628.8,1475.6 635.3,1481.9 641.7,1479.6 648.1,1488.4 654.5,1497.6 660.9,1495.9 667.3,1497.8 673.7,1503.7 680.1,1492.6 686.6,1485.8 693.0,1487.4 699.4,1493.9 705.8,1500.4 712.2,1496.8 718.6,1495.9 725.0,1496.3 731.4,1491.3 737.9,1500.4 744.3,1498.5 750.7,1493.9 757.1,1494.6 763.5,1494.6 769.9,1485.8 776.3,1479.8 782.7,1482.2 789.1,1489.3 795.6,1485.6 802.0,1480.2 808.4,1482.2 814.8,1485.8 821.2,1484.1 827.6,1488.4 834.0,1489.3 840.4,1483.5 846.9,1488.7 853.3,1495.0 859.7,1482.8 866.1,1495.0 872.5,1496.8 878.9,1495.9 885.3,1497.2 891.7,1497.2 898.2,1497.8" fill="none" stroke="#000000" stroke-width="2.6" stroke-linejoin="round" stroke-linecap="round"/>
<path d="M363.87,1477.30L380.87,1477.30M366.36,1471.29L378.38,1483.31M372.37,1468.80L372.37,1485.80M378.38,1471.29L366.36,1483.31" stroke="#000000" stroke-width="2.6" stroke-linecap="round" fill="none"/>
<path d="M492.11,1502.80L509.11,1502.80M494.60,1496.79L506.62,1508.81M500.61,1494.30L500.61,1511.30M506.62,1496.79L494.60,1508.81" stroke="#000000" stroke-width="2.6" stroke-linecap="round" fill="none"/>
<path d="M620.35,1475.60L637.35,1475.60M622.84,1469.59L634.86,1481.61M628.85,1467.10L628.85,1484.10M634.86,1469.59L622.84,1481.61" stroke="#000000" stroke-width="2.6" stroke-linecap="round" fill="none"/>
<path d="M748.59,1494.60L765.59,1494.60M751.08,1488.59L763.10,1500.61M757.09,1486.10L757.09,1503.10M763.10,1488.59L751.08,1500.61" stroke="#000000" stroke-width="2.6" stroke-linecap="round" fill="none"/>
<path d="M876.83,1497.20L893.83,1497.20M879.32,1491.19L891.34,1503.21M885.33,1488.70L885.33,1505.70M891.34,1491.19L879.32,1503.21" stroke="#000000" stroke-width="2.6" stroke-linecap="round" fill="none"/>
</g>
<text transform="translate(113.25,1585.70)" style="font-family:'Liberation Serif', serif;font-size:36.20px" fill="#000" stroke="#fff" stroke-width="0.20">0</text>
<text transform="translate(180.55,1585.70)" style="font-family:'Liberation Serif', serif;font-size:36.20px" fill="#000" stroke="#fff" stroke-width="0.20">12</text>
<text transform="translate(257.58,1585.70)" style="font-family:'Liberation Serif', serif;font-size:36.20px" fill="#000" stroke="#fff" stroke-width="0.20">24</text>
<text transform="translate(334.70,1585.70)" style="font-family:'Liberation Serif', serif;font-size:36.20px" fill="#000" stroke="#fff" stroke-width="0.20">36</text>
<text transform="translate(412.31,1585.70)" style="font-family:'Liberation Serif', serif;font-size:36.20px" fill="#000" stroke="#fff" stroke-width="0.20">48</text>
<text transform="translate(488.83,1585.70)" style="font-family:'Liberation Serif', serif;font-size:36.20px" fill="#000" stroke="#fff" stroke-width="0.20">60</text>
<text transform="translate(565.67,1585.70)" style="font-family:'Liberation Serif', serif;font-size:36.20px" fill="#000" stroke="#fff" stroke-width="0.20">72</text>
<text transform="translate(642.40,1585.70)" style="font-family:'Liberation Serif', serif;font-size:36.20px" fill="#000" stroke="#fff" stroke-width="0.20">84</text>
<text transform="translate(719.71,1585.70)" style="font-family:'Liberation Serif', serif;font-size:36.20px" fill="#000" stroke="#fff" stroke-width="0.20">96</text>
<text transform="translate(786.74,1585.70)" style="font-family:'Liberation Serif', serif;font-size:36.20px" fill="#000" stroke="#fff" stroke-width="0.20">108</text>
<text transform="translate(863.69,1585.70)" style="font-family:'Liberation Serif', serif;font-size:36.20px" fill="#000" stroke="#fff" stroke-width="0.20">120</text>
<text transform="translate(94.08,1555.30)" style="font-family:'Liberation Serif', serif;font-size:36.20px" fill="#000" stroke="#fff" stroke-width="0.20">0</text>
<text transform="translate(48.86,1413.50)" style="font-family:'Liberation Serif', serif;font-size:36.20px" fill="#000" stroke="#fff" stroke-width="0.20">0.05</text>
<text transform="translate(67.72,1271.60)" style="font-family:'Liberation Serif', serif;font-size:36.20px" fill="#000" stroke="#fff" stroke-width="0.20">0.1</text>
<text transform="translate(418.65,1631.77) scale(1.0451,1)" style="font-family:'Liberation Serif', serif;font-size:44.52px" fill="#000" stroke="#fff" stroke-width="0.20">t</text>
<text transform="translate(449.10,1634.66) scale(0.5121,1)" style="font-family:'Liberation Serif', serif;font-size:47.36px" fill="#000" stroke="#fff" stroke-width="0.20">[</text>
<text transform="translate(459.39,1636.59) scale(1.0281,1)" style="font-family:'Liberation Serif', serif;font-size:45.67px" fill="#000" stroke="#fff" stroke-width="0.20">×</text>
<text transform="translate(488.80,1632.00) scale(0.8824,1)" style="font-family:'Liberation Serif', serif;font-size:41.20px" fill="#000" stroke="#fff" stroke-width="0.20">1</text>
<text transform="translate(510.30,1639.94) scale(0.9139,1)" style="font-family:'Liberation Serif', serif;font-size:57.10px" fill="#000" stroke="#fff" stroke-width="0.20">/</text>
<text transform="translate(526.79,1631.80) scale(0.9807,1)" style="font-family:'Liberation Serif', serif;font-size:40.60px" fill="#000" stroke="#fff" stroke-width="0.20">30</text>
<text transform="translate(579.15,1631.82) scale(1.0963,1)" style="font-family:'Liberation Serif', serif;font-size:38.88px" fill="#000" stroke="#fff" stroke-width="0.20">s</text>
<text transform="translate(595.21,1634.83) scale(0.5189,1)" style="font-family:'Liberation Serif', serif;font-size:47.61px" fill="#000" stroke="#fff" stroke-width="0.20">]</text>
<g transform="translate(33.69,1460.00) rotate(-90)"><text transform="translate(0.04,0) scale(1.1347,1)" style="font-family:'Liberation Serif', serif;font-style:italic;font-size:37.90px" fill="#000" stroke="#fff" stroke-width="0.55">μ</text></g>
<g transform="translate(39.94,1437.10) rotate(-90)"><text transform="translate(-0.64,0) scale(0.7942,1)" style="font-family:'Liberation Serif', serif;font-style:italic;font-size:27.03px" fill="#000" stroke="#fff" stroke-width="0.34">ϵ</text></g>
<g transform="translate(43.72,1425.80) rotate(-90)"><text transform="translate(-0.91,0) scale(1.1353,1)" style="font-family:'Liberation Serif', serif;font-style:italic;font-size:18.11px" fill="#000" stroke="#fff" stroke-width="0.23">υ</text></g>
<g transform="translate(36.89,1396.50) rotate(-90)"><text transform="translate(-1.83,0) scale(0.5324,1)" style="font-family:'Liberation Serif', serif;font-size:46.40px" fill="#000" stroke="#fff" stroke-width="0.20">[</text></g>
<g transform="translate(34.99,1387.40) rotate(-90)"><text transform="translate(-1.22,0) scale(0.7708,1)" style="font-family:'Liberation Serif', serif;font-size:46.15px" fill="#000" stroke="#fff" stroke-width="0.20">%</text></g>
<g transform="translate(36.89,1357.40) rotate(-90)"><text transform="translate(-0.89,0) scale(0.5324,1)" style="font-family:'Liberation Serif', serif;font-size:46.40px" fill="#000" stroke="#fff" stroke-width="0.20">]</text></g>
<text transform="translate(1.27,1275.40) scale(0.9348,1)" style="font-family:'Liberation Sans', sans-serif;font-weight:bold;font-size:43.61px" fill="#000">D</text>
<rect x="791" y="1274.4" width="96.50" height="51.70" fill="#fff" stroke="#888" stroke-width="1.3"/>
<path d="M796,1300.1H828.3" stroke="#000" stroke-width="2.6" stroke-linecap="round"/>
<text transform="translate(833.35,1310.31) scale(1.1642,1)" style="font-family:'Liberation Serif', serif;font-style:italic;font-size:39.68px" fill="#000">μ</text>
<text transform="translate(857.75,1316.23) scale(0.7852,1)" style="font-family:'Liberation Serif', serif;font-style:italic;font-size:27.65px" fill="#000" stroke="#000" stroke-width="0.60">ϵ</text>
<text transform="translate(867.60,1320.50) scale(1.2373,1)" style="font-family:'Liberation Serif', serif;font-style:italic;font-size:19.98px" fill="#000">υ</text>
</svg>
</body></html>
